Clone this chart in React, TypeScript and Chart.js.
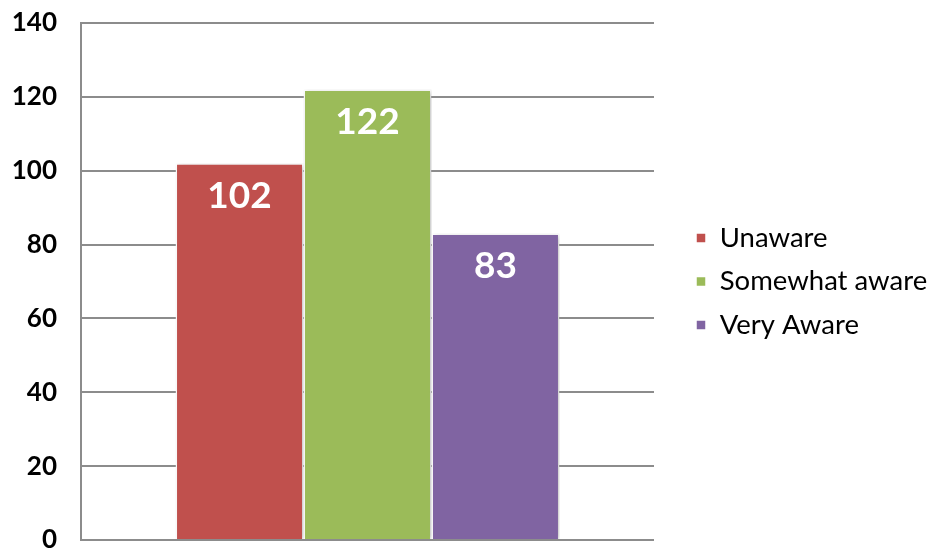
import React, { useEffect, useRef } from "react";
import { Chart, registerables } from "chart.js";

Chart.register(...registerables);

const categories = [""];
const seriesNames = ["Unaware", "Somewhat aware", "Very Aware"];
const seriesValues = [[102], [122], [83]];
const seriesColors = ["#C0504D", "#9BBB59", "#8064A2"];
const yTicks = [0, 20, 40, 60, 80, 100, 120, 140];

const LEGEND_WIDTH = 276;
const LEGEND_SHIFT = 26;

const legendPatch = {
  id: "legendPatch",
  afterInit(chart: any) {
    const lg = chart.legend;
    if (!lg || lg.__patched) return;
    lg.__patched = true;
    const origFit = lg.fit.bind(lg);
    lg.fit = function () {
      origFit();
      this.width = LEGEND_WIDTH;
    };
    const origDraw = lg.draw.bind(lg);
    lg.draw = function () {
      this.left += LEGEND_SHIFT;
      this.right += LEGEND_SHIFT;
      origDraw();
      this.left -= LEGEND_SHIFT;
      this.right -= LEGEND_SHIFT;
    };
  },
};

const labelPlugin = {
  id: "barLabels",
  beforeDatasetsDraw(chart: any) {
    const ctx = chart.ctx;
    ctx.save();
    ctx.shadowColor = "rgba(0,0,0,0.25)";
    ctx.shadowBlur = 5;
    ctx.shadowOffsetX = 2;
    ctx.shadowOffsetY = 1;
  },
  afterDatasetsDraw(chart: any) {
    const ctx = chart.ctx;
    ctx.restore();
    ctx.save();
    ctx.fillStyle = "#ffffff";
    ctx.font = "bold 37px Lato";
    ctx.textAlign = "center";
    ctx.textBaseline = "middle";
    chart.data.datasets.forEach((ds: any, i: number) => {
      const meta = chart.getDatasetMeta(i);
      meta.data.forEach((bar: any, j: number) => {
        ctx.fillText(String(ds.data[j]), bar.x, bar.y + 33);
      });
    });
    ctx.restore();
  },
};

export default function App() {
  const ref = useRef<HTMLCanvasElement | null>(null);
  useEffect(() => {
    if (!ref.current) return;
    const chart = new Chart(ref.current, {
      type: "bar",
      data: {
        labels: categories,
        datasets: seriesNames.map((name, i) => ({
          label: name,
          data: seriesValues[i],
          backgroundColor: seriesColors[i],
          borderColor: "#ffffff",
          borderWidth: 1.5,
          barPercentage: 1,
          categoryPercentage: 0.67,
        })),
      },
      options: {
        animation: false,
        responsive: true,
        maintainAspectRatio: false,
        layout: { padding: { top: 23, right: 0, left: 0, bottom: 10 } },
        scales: {
          x: { display: false },
          y: {
            min: 0,
            max: 140,
            afterBuildTicks: (axis: any) => {
              axis.ticks = yTicks.map((v) => ({ value: v }));
            },
            afterFit: (axis: any) => {
              axis.width = 81;
              axis.paddingTop = 0;
              axis.paddingBottom = 0;
            },
            grid: { color: "#8c8c8c", lineWidth: 2, drawTicks: false },
            border: { color: "#8c8c8c", width: 2 },
            ticks: {
              color: "#000000",
              padding: 24,
              font: { family: "Lato", weight: "bold", size: 26 },
            },
          },
        },
        plugins: {
          tooltip: { enabled: false },
          legend: {
            position: "right",
            align: "center",
            labels: {
              usePointStyle: true,
              pointStyle: "rect",
              boxWidth: 10,
              boxHeight: 10,
              padding: 16,
              color: "#000000",
              font: { family: "Lato", size: 27.5 },
            },
          },
        },
      },
      plugins: [legendPatch, labelPlugin],
    } as any);
    chart.update();
    return () => chart.destroy();
  }, []);
  return (
    <div style={{ position: "fixed", left: 0, top: 0, width: 930, height: 550, background: "#fff" }}>
      <canvas ref={ref} />
    </div>
  );
}
